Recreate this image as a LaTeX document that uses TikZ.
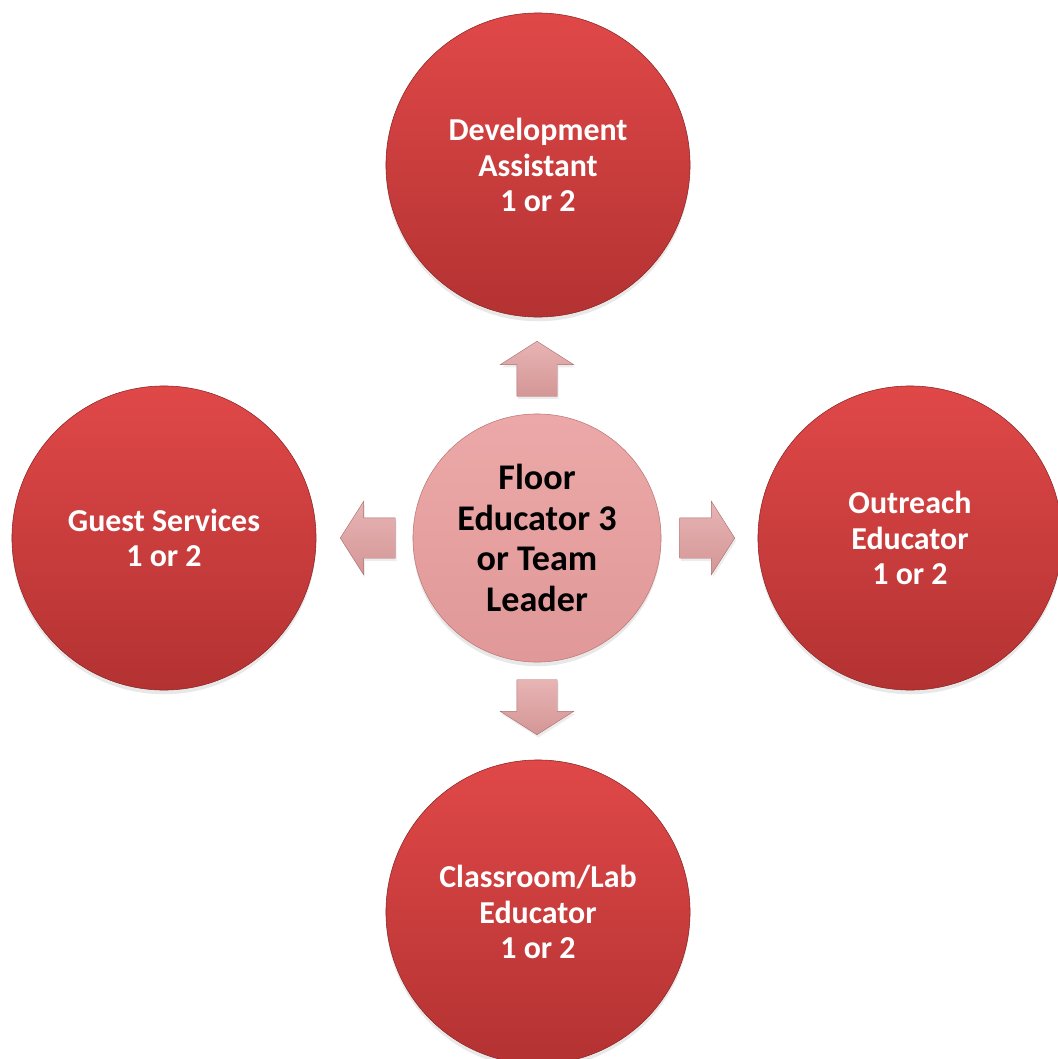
\documentclass[tikz,border=0pt]{standalone}
\usepackage{fontspec}
\setmainfont{Carlito}
\usetikzlibrary{shapes.arrows,shadows}
\definecolor{roleRedTop}{RGB}{224,72,72}
\definecolor{roleRedBot}{RGB}{180,50,50}
\definecolor{roleRedLine}{RGB}{140,38,38}
\definecolor{leadPinkTop}{RGB}{236,168,168}
\definecolor{leadPinkBot}{RGB}{224,152,152}
\definecolor{leadPinkLine}{RGB}{190,120,120}
\definecolor{arrowPink}{RGB}{232,180,180}
\definecolor{arrowPinkDark}{RGB}{212,150,150}
\definecolor{arrowLine}{RGB}{170,110,110}
\begin{document}
\begin{tikzpicture}[x = 0.025cm, y = -0.025cm,
    role node/.style = {circle, draw = roleRedLine, line width = 0.4pt, top color = roleRedTop, bottom color = roleRedBot,
        minimum size = 7.6cm, inner sep = 0pt, align = center, text = white,
        font = \fontsize{22.7pt}{25pt}\selectfont\bfseries,
        drop shadow = {opacity = 0.18, shadow xshift = 0pt, shadow yshift = -3pt}},
    lead node/.style = {circle, draw = leadPinkLine, line width = 0.4pt, top color = leadPinkTop, bottom color = leadPinkBot,
        minimum size = 6.2cm, inner sep = 0pt, align = center, text = black,
        font = \fontsize{25.7pt}{29pt}\selectfont\bfseries,
        drop shadow = {opacity = 0.18, shadow xshift = 0pt, shadow yshift = -3pt}},
    block arrow/.style = {single arrow, draw = arrowLine, line width = 0.3pt, top color = arrowPink, bottom color = arrowPinkDark,
        inner xsep = 0pt, inner ysep = 0.5cm, minimum height = 1.375cm, minimum width = 1.825cm,
        single arrow head extend = 0.41cm, single arrow tip angle = 115, anchor = tip,
        drop shadow = {opacity = 0.15, shadow xshift = 1pt, shadow yshift = -2pt}}]
    \useasboundingbox (0, 0) rectangle (1058, 1059);
    \clip (0, 0) rectangle (1058, 1059);

    \node at (538, 165) [role node] (develop) {Development\\Assistant\\1 or 2};
    \node at (164, 538) [role node] (guest) {Guest Services\\1 or 2};
    \node at (910, 538) [role node] (outreach) {Outreach\\Educator\\1 or 2};
    \node at (538, 912) [role node] (classroom) {Classroom/Lab\\Educator\\1 or 2};
    \node at (537, 538) [lead node] (leader) {Floor\\Educator 3\\or Team\\Leader};

    \node at (537, 341) [block arrow, rotate = 90] (toDevelop) {};
    \node at (340, 538) [block arrow, rotate = 180] (toGuest) {};
    \node at (735, 538) [block arrow] (toOutreach) {};
    \node at (537, 735) [block arrow, rotate = -90] (toClassroom) {};
\end{tikzpicture}
\end{document}
